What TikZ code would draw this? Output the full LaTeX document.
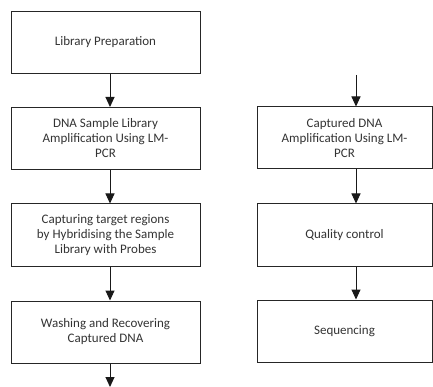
\documentclass[tikz,border=0pt]{standalone}
\usepackage{fontspec}
\setmainfont{Carlito}
\usetikzlibrary{arrows.meta}
\begin{document}
\begin{tikzpicture}[x=1pt,y=-1pt,
		box/.style={draw=black!85,line width=1pt,minimum height=62pt,inner sep=0pt,align=center,font=\fontsize{13}{15}\selectfont,text=black!80},
		lbox/.style={box,minimum width=189pt},
		rbox/.style={box,minimum width=175pt},
		flow/.style={-{Triangle[length=10pt,width=9pt]},line width=1pt,draw=black!90}]
	\useasboundingbox (0,0) rectangle (433,387);
	
	% left column
	\node[lbox] (prep) at (105.5,42.5) {Library Preparation};
	\node[lbox] (libamp) at (105.5,138.5) {DNA Sample Library\\Amplification Using LM-\\PCR};
	\node[lbox] (capture) at (105.5,235) {Capturing target regions\\by Hybridising the Sample\\Library with Probes};
	\node[lbox] (wash) at (105.5,332) {Washing and Recovering\\Captured DNA};
	
	% right column
	\node[rbox] (capamp) at (344.5,138) {Captured DNA\\Amplification Using LM-\\PCR};
	\node[rbox] (qc) at (344.5,235) {Quality control};
	\node[rbox] (seq) at (344.5,331) {Sequencing};
	
	\coordinate (lcol) at (110,0);
	\coordinate (rcol) at (356,0);
	\coordinate (rtop) at (356,75);
	\coordinate (lend) at (110,387);
	
	\draw[flow] (prep.south -| lcol) -- (libamp.north -| lcol);
	\draw[flow] (libamp.south -| lcol) -- (capture.north -| lcol);
	\draw[flow] (capture.south -| lcol) -- (wash.north -| lcol);
	\draw[flow] (wash.south -| lcol) -- (lend);
	
	\draw[flow] (rtop) -- (capamp.north -| rcol);
	\draw[flow] (capamp.south -| rcol) -- (qc.north -| rcol);
	\draw[flow] (qc.south -| rcol) -- (seq.north -| rcol);
\end{tikzpicture}
\end{document}
